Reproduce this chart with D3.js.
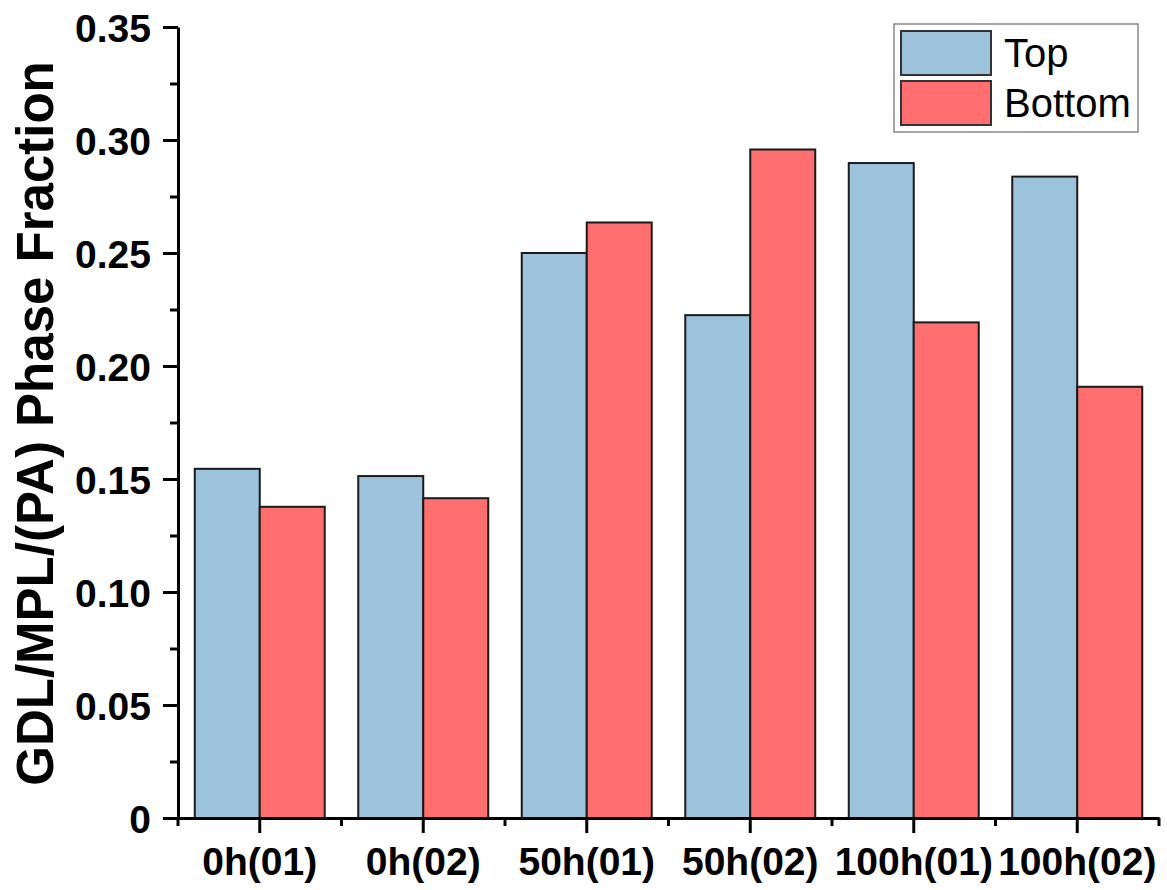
<!DOCTYPE html>
<html>
<head>
<meta charset="utf-8">
<script src="https://cdn.jsdelivr.net/npm/d3@7"></script>
<style>
  html, body { margin: 0; padding: 0; background: #fff; }
  svg { display: block; }
</style>
</head>
<body>
<div id="chart"></div>
<script>
// Sample groups and the two measured positions
const categories = ["0h(01)", "0h(02)", "50h(01)", "50h(02)", "100h(01)", "100h(02)"];
const seriesNames = ["Top", "Bottom"];
const topValues = [0.1545, 0.1513, 0.2500, 0.2225, 0.2898, 0.2838];
const bottomValues = [0.1377, 0.1415, 0.2635, 0.2958, 0.2193, 0.1908];
const yTicks = [0, 0.05, 0.10, 0.15, 0.20, 0.25, 0.30, 0.35];
const yTickLabels = ["0", "0.05", "0.10", "0.15", "0.20", "0.25", "0.30", "0.35"];
const colors = ["#9dc3dc", "#ff6f6f"];

const W = 1167, H = 890;
const margin = { left: 178, right: 8, top: 27, bottom: 72 };
const FONT = "Liberation Sans, Arial, sans-serif";

const svg = d3.select("#chart").append("svg")
  .attr("width", W).attr("height", H);

const x0 = d3.scaleBand()
  .domain(categories)
  .range([margin.left, W - margin.right])
  .paddingInner(0.205)
  .paddingOuter(0.1025);

const xFull = d3.scaleBand()
  .domain(categories)
  .range([margin.left, W - margin.right]);

const x1 = d3.scaleBand()
  .domain(seriesNames)
  .range([0, x0.bandwidth()]);

const y = d3.scaleLinear()
  .domain([0, 0.35])
  .range([H - margin.bottom, margin.top]);

const rows = categories.map((c, i) => ({ cat: c, values: [topValues[i], bottomValues[i]] }));

// Bars
const g = svg.append("g");
g.selectAll("g.group").data(rows).join("g")
  .attr("class", "group")
  .attr("transform", d => `translate(${x0(d.cat)},0)`)
  .selectAll("rect")
  .data(d => d.values.map((v, k) => ({ key: seriesNames[k], v, k })))
  .join("rect")
  .attr("x", d => x1(d.key))
  .attr("y", d => y(d.v))
  .attr("width", x1.bandwidth())
  .attr("height", d => y(0) - y(d.v))
  .attr("fill", d => colors[d.k])
  .attr("stroke", "#1a1a1a")
  .attr("stroke-width", 2);

// Y axis with major ticks plus minor ticks between them
const yAxis = svg.append("g")
  .attr("transform", `translate(${margin.left},0)`);
const yMinor = d3.range(0.025, 0.35, 0.05);
yAxis.append("g")
  .call(d3.axisLeft(y).tickValues(yMinor).tickSize(8).tickFormat(""))
  .call(s => s.select(".domain").remove())
  .selectAll("line").attr("stroke", "#000").attr("stroke-width", 3);
yAxis.append("g")
  .call(d3.axisLeft(y).tickValues(yTicks).tickSize(15).tickSizeOuter(0)
    .tickFormat((d, i) => yTickLabels[i]))
  .call(s => s.select(".domain").attr("stroke", "#000").attr("stroke-width", 3))
  .call(s => s.selectAll("line").attr("stroke", "#000").attr("stroke-width", 3))
  .call(s => s.selectAll("text")
    .attr("x", -27)
    .attr("dy", "0.36em")
    .style("font-family", FONT)
    .style("font-weight", "bold")
    .style("font-size", "39px")
    .attr("fill", "#000"));

// X axis: major ticks at group centres, minor ticks at group boundaries
const xAxisG = svg.append("g")
  .attr("transform", `translate(0,${y(0)})`);
const boundaries = categories.map(c => xFull(c)).concat([xFull.range()[1]]);
xAxisG.append("g")
  .selectAll("line.minor").data(boundaries).join("line")
  .attr("x1", d => d).attr("x2", d => d)
  .attr("y1", 0).attr("y2", 8)
  .attr("stroke", "#000").attr("stroke-width", 3);
xAxisG.append("g")
  .call(d3.axisBottom(xFull).tickSize(15).tickSizeOuter(0))
  .call(s => s.select(".domain").attr("stroke", "#000").attr("stroke-width", 3))
  .call(s => s.selectAll("line").attr("stroke", "#000").attr("stroke-width", 3))
  .call(s => s.selectAll("text")
    .attr("y", 57)
    .attr("dy", "0")
    .style("font-family", FONT)
    .style("font-weight", "bold")
    .style("font-size", "39px")
    .attr("fill", "#000"));

// Y axis title
svg.append("text")
  .attr("transform", `translate(53,${(y(0) + y(0.35)) / 2 + 1}) rotate(-90)`)
  .attr("text-anchor", "middle")
  .style("font-family", FONT)
  .style("font-weight", "bold")
  .style("font-size", "51px")
  .attr("fill", "#000")
  .text("GDL/MPL/(PA) Phase Fraction");

// Legend
const legend = svg.append("g");
legend.append("rect")
  .attr("x", 894).attr("y", 24).attr("width", 244).attr("height", 108)
  .attr("fill", "#fff").attr("stroke", "#888").attr("stroke-width", 1.5);
seriesNames.forEach((name, i) => {
  legend.append("rect")
    .attr("x", 901).attr("y", 31 + i * 50)
    .attr("width", 90).attr("height", 44)
    .attr("fill", colors[i]).attr("stroke", "#333").attr("stroke-width", 2);
  legend.append("text")
    .attr("x", 1004).attr("y", 53 + i * 50)
    .attr("dy", "0.36em")
    .style("font-family", FONT)
    .style("font-size", "40px")
    .attr("fill", "#000")
    .text(name);
});
</script>
</body>
</html>
